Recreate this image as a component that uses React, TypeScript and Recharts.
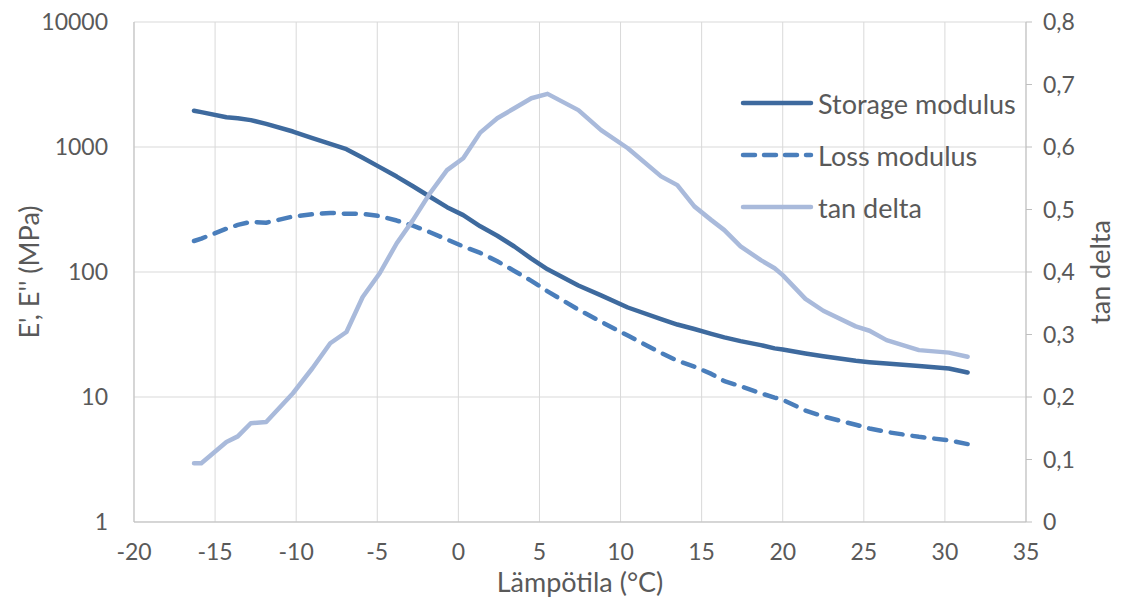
import React from 'react';
import { LineChart, Line, XAxis, YAxis, CartesianGrid, Label } from 'recharts';

const temps = [
  -16.3, -15.85, -14.3, -13.6, -12.8, -11.85, -10.2, -9.0, -7.9, -6.9, -5.9, -4.85, -3.8, -2.8,
  -1.75, -0.7, 0.3, 1.35, 2.4, 3.45, 4.5, 5.5, 7.4, 8.8, 10.45, 12.5, 13.5, 14.55, 15.6, 16.4,
  17.4, 18.65, 19.5, 20.0, 21.4, 22.5, 24.5, 25.35, 26.4, 28.4, 30.25, 31.4,
];

const storageModulus = [
  1950, 1900, 1730, 1700, 1640, 1530, 1330, 1180, 1060, 960, 820, 690, 580, 485,
  400, 330, 285, 232, 195, 160, 128, 105, 78, 65, 52, 42, 38, 35, 32, 30,
  28, 26, 24.5, 24, 22.3, 21.2, 19.5, 19, 18.5, 17.7, 16.9, 15.7,
];

const lossModulus = [
  177, 185, 222, 238, 252, 248, 278, 290, 297, 292, 292, 280, 258, 235,
  208, 182, 160, 142, 122, 102, 85, 70, 50, 40, 31, 22.5, 19.5, 17.5, 15.3, 13.4,
  12.2, 10.7, 9.9, 9.5, 7.8, 7.0, 6.0, 5.6, 5.25, 4.8, 4.5, 4.2,
];

const tanDelta = [
  0.094, 0.094, 0.128, 0.137, 0.158, 0.160, 0.206, 0.246, 0.286, 0.304, 0.360, 0.398, 0.446, 0.483,
  0.526, 0.563, 0.582, 0.623, 0.646, 0.662, 0.678, 0.685, 0.659, 0.627, 0.598, 0.553, 0.539, 0.505, 0.483, 0.467,
  0.441, 0.419, 0.406, 0.395, 0.357, 0.338, 0.313, 0.306, 0.291, 0.275, 0.271, 0.2645,
];

const xTicks = [-20, -15, -10, -5, 0, 5, 10, 15, 20, 25, 30, 35];
const leftTicks = [1, 10, 100, 1000, 10000];
const rightTicks = [0, 0.1, 0.2, 0.3, 0.4, 0.5, 0.6, 0.7, 0.8];

const seriesNames = ['Storage modulus', 'Loss modulus', 'tan delta'];
const COLORS = ['#3E6A9E', '#4A7EBB', '#A9BADB'];

const data = temps.map((t, i) => ({
  t,
  storage: storageModulus[i],
  loss: lossModulus[i],
  tan: tanDelta[i],
}));

const FONT = 'Lato, "Open Sans", sans-serif';
const TEXT = '#595959';
const tickStyle = { fill: TEXT, fontSize: 23, fontFamily: FONT };
const titleStyle = { fill: TEXT, fontSize: 27, fontFamily: FONT, textAnchor: 'middle' as const };

const LegendBox = () => (
  <div
    style={{
      position: 'absolute',
      left: 740,
      top: 77,
      fontFamily: FONT,
      color: TEXT,
      fontSize: 27,
      pointerEvents: 'none',
    }}
  >
    {seriesNames.map((name, i) => (
      <div key={name} style={{ display: 'flex', alignItems: 'center', height: 52 }}>
        <svg width={74} height={10} style={{ display: 'block' }}>
          <line
            x1={3}
            y1={5}
            x2={71}
            y2={5}
            stroke={COLORS[i]}
            strokeWidth={4.5}
            strokeLinecap="round"
            strokeDasharray={i === 1 ? '12 9' : undefined}
          />
        </svg>
        <span style={{ marginLeft: 4, whiteSpace: 'nowrap', lineHeight: 1 }}>{name}</span>
      </div>
    ))}
  </div>
);

export default function App() {
  return (
    <div style={{ position: 'absolute', left: 0, top: 0, width: 1122, height: 603, background: '#fff' }}>
      <LineChart
        width={1122}
        height={603}
        data={data}
        margin={{ top: 22, right: 0, bottom: 0, left: 0 }}
        style={{ fontFamily: FONT }}
      >
        <CartesianGrid stroke="#D9D9D9" strokeWidth={1} yAxisId="left" />
        <XAxis
          dataKey="t"
          type="number"
          domain={[-20, 35]}
          ticks={xTicks}
          interval={0}
          height={81}
          tickSize={0}
          tickMargin={22}
          tickLine={false}
          axisLine={{ stroke: '#BFBFBF', strokeWidth: 1 }}
          tick={tickStyle}
        >
          <Label value="Lämpötila (°C)" position="center" dy={20} style={titleStyle} />
        </XAxis>
        <YAxis
          yAxisId="left"
          scale="log"
          domain={[1, 10000]}
          allowDataOverflow
          ticks={leftTicks}
          interval={0}
          width={134}
          tickSize={0}
          tickMargin={26}
          tickLine={false}
          axisLine={{ stroke: '#BFBFBF', strokeWidth: 1 }}
          tick={tickStyle}
        >
          <Label value="E', E'' (MPa)" angle={-90} position="center" dx={-38} style={titleStyle} />
        </YAxis>
        <YAxis
          yAxisId="right"
          orientation="right"
          domain={[0, 0.8]}
          ticks={rightTicks}
          interval={0}
          width={96}
          tickSize={6}
          tickMargin={11}
          tickLine={{ stroke: '#BFBFBF' }}
          axisLine={{ stroke: '#BFBFBF', strokeWidth: 1 }}
          tick={{ ...tickStyle, textAnchor: 'start' }}
          tickFormatter={(v: number) => (v === 0 ? '0' : v.toFixed(1).replace('.', ','))}
        >
          <Label value="tan delta" angle={-90} position="center" dx={26} style={titleStyle} />
        </YAxis>
        <Line
          yAxisId="left"
          dataKey="storage"
          name={seriesNames[0]}
          stroke={COLORS[0]}
          strokeWidth={4.5}
          strokeLinecap="round"
          strokeLinejoin="round"
          dot={false}
          isAnimationActive={false}
        />
        <Line
          yAxisId="left"
          dataKey="loss"
          name={seriesNames[1]}
          stroke={COLORS[1]}
          strokeWidth={4.5}
          strokeDasharray="12 10"
          strokeLinecap="round"
          strokeLinejoin="round"
          dot={false}
          isAnimationActive={false}
        />
        <Line
          yAxisId="right"
          dataKey="tan"
          name={seriesNames[2]}
          stroke={COLORS[2]}
          strokeWidth={4.5}
          strokeLinecap="round"
          strokeLinejoin="round"
          dot={false}
          isAnimationActive={false}
        />
      </LineChart>
      <LegendBox />
    </div>
  );
}
